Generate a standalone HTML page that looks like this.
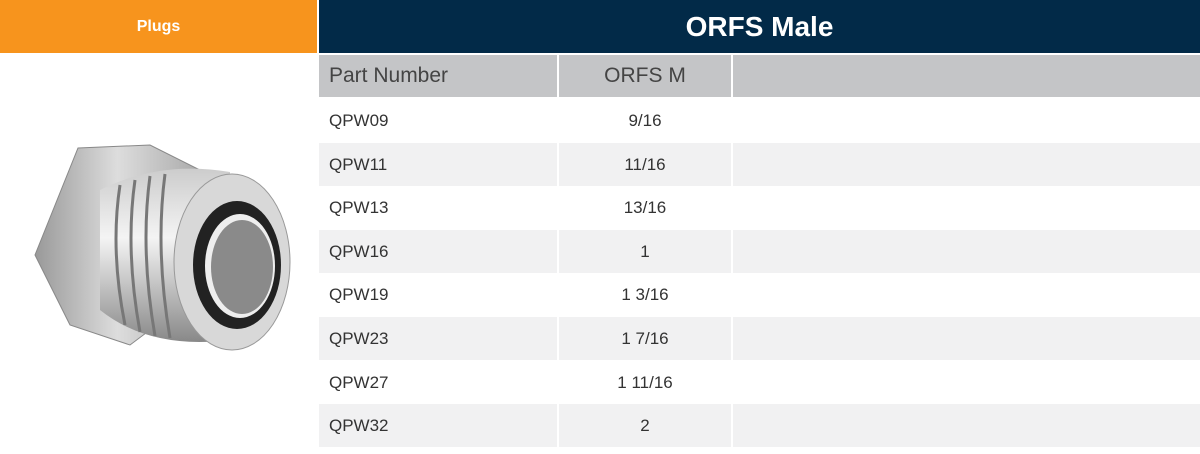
<!DOCTYPE html>
<html><head><meta charset="utf-8"><style>
body{margin:0;width:1200px;height:454px;background:#fff;position:relative;overflow:hidden;font-family:"Liberation Sans",sans-serif}
.a{position:absolute}
.r{position:absolute;left:319px;width:881px;height:43px}
.t{position:absolute;font-size:17px;color:#333}
</style></head><body>
<div class="a" style="left:0;top:0;width:317px;height:53px;background:#f7941d;color:#fff;font-weight:bold;font-size:16px;line-height:53px;text-align:center">Plugs</div>
<div class="a" style="left:319px;top:0;width:881px;height:53px;background:#022a48;color:#fff;font-weight:bold;font-size:28px;line-height:53px;text-align:center">ORFS Male</div>
<div class="r" style="top:55px;height:42px;background:#c4c5c7"></div>
<div class="a" style="left:557px;top:55px;width:2px;height:42px;background:#fff"></div>
<div class="a" style="left:731px;top:55px;width:2px;height:42px;background:#fff"></div>
<div class="t" style="left:329px;top:64px;font-size:21px;color:#444">Part Number</div>
<div class="t" style="left:559px;width:172px;text-align:center;top:64px;font-size:21px;color:#444">ORFS M</div>
<div id="rows"></div>
<script>
var d=[["QPW09","9/16"],["QPW11","11/16"],["QPW13","13/16"],["QPW16","1"],["QPW19","1 3/16"],["QPW23","1 7/16"],["QPW27","1 11/16"],["QPW32","2"]];
var h="";d.forEach(function(x,i){var y=99+i*43.6;
if(i%2)h+='<div class="r" style="top:'+y+'px;background:#f1f1f2"></div><div class="a" style="left:557px;top:'+y+'px;width:2px;height:43px;background:#fff"></div><div class="a" style="left:731px;top:'+y+'px;width:2px;height:43px;background:#fff"></div>';
h+='<div class="t" style="left:329px;top:'+(y+12)+'px">'+x[0]+'</div><div class="t" style="left:559px;width:172px;text-align:center;top:'+(y+12)+'px">'+x[1]+'</div>';});
document.getElementById("rows").innerHTML=h;
</script>
<svg class="a" style="left:0;top:100px" width="320" height="260" viewBox="0 0 320 260">
<defs><linearGradient id="g" x1="0" y1="0" x2="0" y2="1"><stop offset="0" stop-color="#ccc"/><stop offset=".4" stop-color="#f4f4f4"/><stop offset="1" stop-color="#888"/></linearGradient>
<linearGradient id="h" x1="0" y1="0" x2="1" y2="0"><stop offset="0" stop-color="#999"/><stop offset=".5" stop-color="#ddd"/><stop offset="1" stop-color="#aaa"/></linearGradient></defs>
<polygon points="78,48 150,45 200,70 190,200 130,245 70,225 35,155" fill="url(#h)" stroke="#888"/>
<path d="M100,90 Q160,60 230,72 L230,240 Q150,250 100,210 Z" fill="url(#g)"/>
<g stroke="#777" stroke-width="3" fill="none"><path d="M120,85 Q110,150 125,225"/><path d="M135,80 Q125,150 140,232"/><path d="M150,76 Q140,150 155,236"/><path d="M165,74 Q155,150 170,238"/></g>
<ellipse cx="232" cy="162" rx="58" ry="88" fill="#d8d8d8" stroke="#999"/>
<ellipse cx="237" cy="165" rx="44" ry="64" fill="#222"/>
<ellipse cx="240" cy="166" rx="35" ry="52" fill="#eee"/>
<ellipse cx="242" cy="167" rx="31" ry="47" fill="#8a8a8a"/>
</svg>
</body></html>
